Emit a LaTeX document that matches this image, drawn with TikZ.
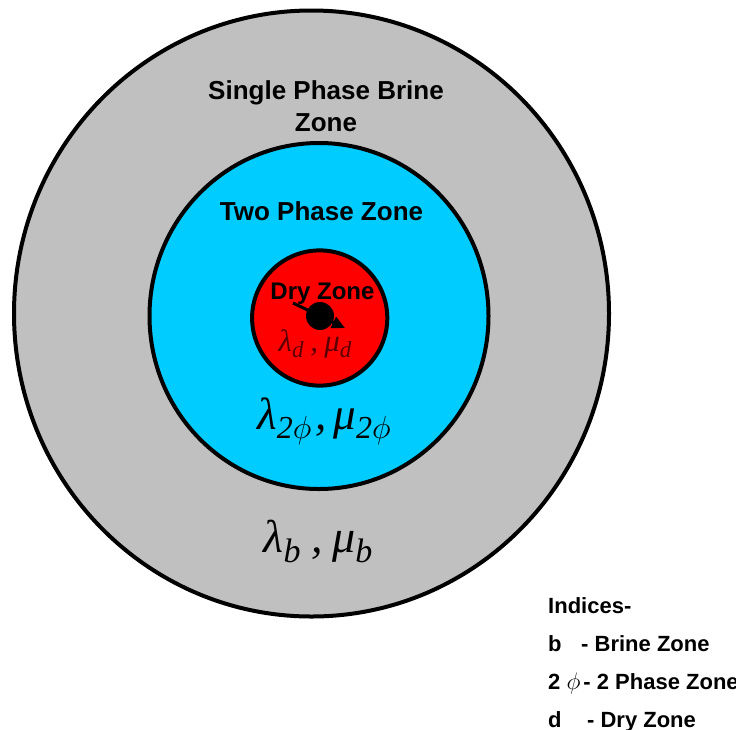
\RequirePackage{fix-cm}
\documentclass[tikz,border=0pt]{standalone}
\usepackage[no-math]{fontspec}
\setmainfont{Liberation Sans}
\newfontfamily\serifgreek{Liberation Serif}
\usetikzlibrary{arrows.meta}
\definecolor{brinegray}{RGB}{192,192,192}
\definecolor{twocyan}{RGB}{0,204,255}
\definecolor{dryred}{RGB}{255,0,0}
\definecolor{darkred}{RGB}{90,0,0}
\newcommand\zsub[2]{\raisebox{-0.22em}{\fontsize{#1}{#1}\selectfont #2}}
\begin{document}
\begin{tikzpicture}[x=1pt,y=-1pt,
  zoneline/.style={line width=4pt, draw=black},
  zonelabel/.style={font=\fontsize{26}{31}\selectfont\bfseries, anchor=base, inner sep=0pt},
  legendtext/.style={font=\fontsize{22}{26}\selectfont\bfseries, anchor=base west, inner sep=0pt},
  mathlabel/.style={anchor=base, inner sep=0pt}]
\useasboundingbox (0,0) rectangle (736,729);
\fill[white] (0,0) rectangle (736,729);
% zones
\filldraw[zoneline, fill=brinegray] (311.5,313.5) ellipse [x radius=297.5pt, y radius=303pt];
\filldraw[zoneline, fill=twocyan] (319,316) ellipse [x radius=169.5pt, y radius=173pt];
\filldraw[zoneline, fill=dryred] (319.7,318) circle [radius=67.6pt];
% well and arrow
\node[circle, fill=black, inner sep=0pt, minimum size=28pt] (well) at (320,316) {};
\coordinate (arrS) at (293,303);
\coordinate (arrE) at (345,328);
\draw[line width=3pt, -{Triangle[length=13pt,width=12pt]}] (arrS) -- (arrE);
% zone labels
\node[zonelabel] (brine1) at (326,99) {Single Phase Brine};
\node[zonelabel] (brine2) at (326,131) {Zone};
\node[zonelabel] (twophase) at (321.5,220) {Two Phase Zone};
\node[zonelabel, font=\fontsize{24}{29}\selectfont\bfseries] (dry) at (322.5,299) {Dry Zone};
% parameters
\node[mathlabel, text=darkred, font=\fontsize{31}{36}\selectfont\serifgreek\itshape] (pard) at (315,351)
  {λ\zsub{23}{d}\hspace{0.22em},\hspace{0.2em}μ\zsub{23}{d}};
\node[mathlabel, font=\fontsize{45}{52}\selectfont\serifgreek\itshape] (par2) at (324,429)
  {λ\zsub{32}{2$\phi$}\hspace{0.1em},\hspace{0.14em}μ\zsub{32}{2$\phi$}};
\node[mathlabel, font=\fontsize{46}{52}\selectfont\serifgreek\itshape] (parb) at (318,552)
  {λ\zsub{34}{b}\hspace{0.24em},\hspace{0.2em}μ\zsub{34}{b}};
% legend
\node[legendtext] (idx) at (548,613) {Indices-};
\node[legendtext] (leg1) at (548,651) {b\hspace{19.6pt}- Brine Zone};
\node[legendtext] (leg2) at (548,689) {2 {\fontsize{24}{26}\selectfont$\phi$}\hspace{3pt}- 2 Phase Zone};
\node[legendtext] (leg3) at (548,727) {d\hspace{25.5pt}- Dry Zone};
\end{tikzpicture}
\end{document}
